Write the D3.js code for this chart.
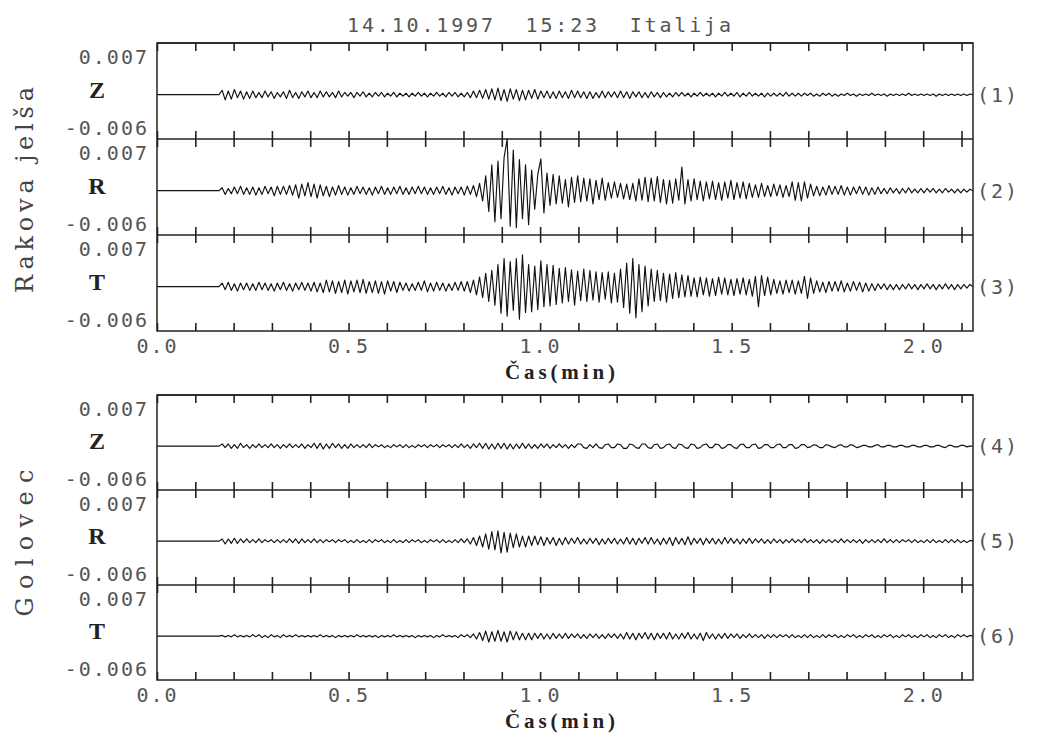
<!DOCTYPE html>
<html lang="sl">
<head>
<meta charset="UTF-8">
<title>14.10.1997 15:23 Italija</title>
<script src="https://d3js.org/d3.v7.min.js"></script>
<style>
    body { margin: 0; background: #fff; }
    .mono { font-family: "DejaVu Sans Mono", monospace; font-size: 20px; fill: #555; letter-spacing: 2px; }
    .serif { font-family: "DejaVu Serif", serif; fill: #444; }
    .bold { font-family: "Liberation Serif", serif; font-weight: bold; fill: #222; }
    .frame { fill: none; stroke: #222; stroke-width: 1.5; }
    .tick line { stroke: #222; stroke-width: 1.6; }
    .trace { fill: none; stroke: #111; stroke-width: 1.15; stroke-linejoin: round; }
</style>
</head>
<body>
<svg id="chart"></svg>
<script>
    // samples start at 0.17 min, one every 0.008 min; amplitudes in units of 0.0001
    var startTime = 0.17;
    var sampleStep = 0.008;

    var rakZ = [
        6,-7,5,-6,7,-4,5,-6,4,-5,
        5,-4,3,-4,5,-3,4,-5,3,-3,
        4,-5,6,-4,3,-5,4,-3,5,-4,
        3,-4,5,-3,4,-3,3,-4,5,-3,
        3,-2,3,-4,3,-2,4,-3,2,-3,
        3,-2,3,-3,2,-2,3,-3,2,-2,
        2,-3,2,-2,3,-2,2,-3,2,-2,
        3,-2,2,-3,3,-2,3,-3,2,-3,
        3,-4,5,-4,6,-5,7,-6,8,-7,
        9,-8,7,-9,8,-6,7,-8,6,-7,
        6,-5,7,-6,5,-4,5,-5,4,-5,
        5,-4,4,-5,6,-4,5,-4,4,-5,
        4,-5,3,-4,5,-4,4,-3,4,-4,
        5,-4,4,-5,4,-3,4,-4,3,-4,
        4,-3,3,-4,3,-3,2,-3,3,-2,
        3,-2,2,-3,2,-2,3,-2,2,-2,
        2,-3,2,-2,3,-2,2,-2,3,-3,
        2,-2,3,-2,2,-2,2,-3,2,-2,
        2,-2,2,-2,3,-2,2,-2,2,-2,
        2,-1,2,-2,1,-2,2,-1,2,-2,
        1,-2,1,-1,2,-1,1,-2,1,-1,
        1,-1,2,-1,1,-1,1,-2,1,-1,
        1,-1,1,-1,2,-1,1,-1,1,-1,
        1,-1,1,-2,1,-1,1,-1,1,-1,
        1,-1,1,-1,1,0
    ];
    var rakR = [
        4,-5,3,-4,5,-4,6,-5,4,-5,
        5,-6,4,-5,6,-4,5,-7,6,-5,
        6,-5,7,-6,8,-10,9,-7,11,-8,
        9,-10,8,-7,6,-8,5,-6,7,-5,
        5,-6,4,-5,6,-4,5,-5,4,-6,
        5,-4,6,-5,4,-5,5,-4,6,-5,
        4,-5,5,-4,6,-4,5,-5,4,-5,
        5,-4,6,-5,4,-6,5,-4,5,-6,
        6,-5,7,-8,10,-14,20,-28,35,-42,
        40,-38,45,70,-48,55,-50,42,-38,35,
        -46,28,-25,22,43,-30,24,-20,22,-18,
        20,-17,15,-22,18,-16,20,-15,17,-14,
        16,-18,14,-12,17,-13,11,-10,12,-9,
        10,-11,9,-12,10,-14,16,-13,18,-15,
        17,-14,19,-16,15,-18,14,-17,16,-13,
        32,-18,15,-14,16,-12,13,-14,12,-11,
        13,-12,11,-13,12,-10,14,-12,11,-10,
        12,-11,10,-9,8,-9,10,-8,7,-8,
        9,-7,8,-9,7,-8,12,-13,11,-14,
        12,-10,9,-7,6,-7,5,-6,7,-5,
        6,-5,7,-6,5,-6,5,-4,6,-5,
        5,-6,4,-5,5,-4,3,-4,4,-3,
        3,-4,3,-3,4,-3,2,-3,3,-3,
        3,-2,3,-3,2,-3,3,-2,2,-3,
        2,-3,2,-2,2,0
    ];
    var rakT = [
        5,-4,6,-5,4,-6,5,-4,5,-5,
        4,-5,6,-4,5,-5,4,-6,5,-4,
        6,-5,4,-6,5,-4,6,-5,5,-6,
        6,-7,5,-8,9,-7,8,-9,7,-8,
        9,-10,8,-7,9,-8,10,-9,7,-8,
        8,-9,7,-10,8,-6,7,-8,6,-5,
        5,-6,4,-5,6,-5,8,-7,5,-6,
        6,-5,5,-6,4,-5,6,-5,7,-6,
        7,-8,9,-11,13,-15,18,-20,22,-25,
        30,-36,38,-40,34,-32,38,-44,43,-35,
        30,-34,28,-31,35,-27,30,-26,29,-24,
        25,-22,26,-20,23,-25,21,-19,24,-20,
        22,-18,20,-21,19,-17,20,-22,18,-21,
        24,-28,32,-36,38,-42,30,-34,28,-26,
        24,-20,22,-19,18,-21,17,-16,19,-15,
        16,-14,15,-13,12,-14,13,-11,12,-13,
        11,-12,13,-10,12,-11,10,-12,11,-10,
        12,-11,10,-13,14,-27,15,-12,13,-11,
        10,-9,8,-10,9,-8,9,-10,8,-9,
        14,-16,12,-9,8,-7,6,-8,7,-6,
        7,-6,8,-7,5,-6,7,-5,6,-7,
        5,-6,4,-5,4,-3,4,-4,3,-4,
        3,-4,3,-3,4,-3,3,-4,3,-3,
        4,-3,3,-4,3,-3,4,-3,3,-4,
        3,-3,3,-2,3,0
    ];
    var golZ = [
        3,-2,3,-3,2,-3,4,-2,2,-3,
        2,-2,3,-2,2,-2,3,-2,2,-3,
        2,-2,3,-2,2,-2,3,-3,2,-2,
        4,-3,4,-4,3,-3,4,-2,3,-3,
        2,-3,3,-2,2,-2,2,-2,3,-2,
        2,-1,2,-2,1,-2,2,-1,2,-2,
        2,-2,1,-2,2,-1,2,-2,2,-1,
        2,-2,2,-1,2,-2,2,-2,3,-2,
        2,-3,3,-2,4,-3,4,-4,3,-4,
        4,-3,4,-4,3,-4,3,-3,4,-3,
        3,-3,2,-3,3,-2,3,-3,2,-2,
        3,-2,2,-3,2,-2,3,3,-2,-3,
        2,-2,3,-2,-3,2,3,-2,-2,3,
        2,-3,-3,3,2,-2,-3,3,3,-2,
        -3,2,3,-3,-2,2,3,-2,-3,3,
        2,-2,-3,3,2,-3,-2,2,3,-2,
        -2,3,2,-3,-2,2,2,-2,-3,2,
        3,-2,-2,2,3,-3,-2,2,2,-2,
        -2,2,3,-2,-2,2,2,-3,-2,2,
        2,-2,-1,2,1,-2,-2,2,1,-1,
        -2,1,2,-1,-1,2,1,-2,-1,1,
        1,-1,-1,1,2,-1,-1,1,1,-1,
        -1,1,1,-1,-1,1,1,-1,-1,1,
        1,-1,-1,1,1,-1,-2,1,1,-1,
        -1,1,1,-1,0,0
    ];
    var golR = [
        3,-4,3,-3,4,-3,3,-2,3,-2,
        2,-2,3,-2,2,-1,2,-2,2,-2,
        2,-2,3,-2,3,-3,3,-2,2,-2,
        3,-2,2,-2,2,-1,2,-2,2,-1,
        2,-2,1,-2,2,-2,1,-2,2,-2,
        2,-1,2,-2,1,-2,2,-2,1,-2,
        2,-2,2,-1,2,-2,1,-2,2,-1,
        2,-2,2,-2,1,-2,2,-2,3,-2,
        3,-4,5,-6,7,-8,10,-11,13,-12,
        14,-16,12,-15,11,-9,10,-8,7,-8,
        7,-6,7,-5,6,-6,5,-4,5,-6,
        4,-5,5,-4,4,-3,5,-4,3,-4,
        4,-3,4,-5,3,-4,4,-3,4,-4,
        3,-4,5,-4,4,-5,4,-3,5,-4,
        5,-4,3,-5,4,-4,5,-6,5,-4,
        4,-5,6,-5,4,-3,4,-5,4,-3,
        4,-4,3,-4,5,-3,4,-3,3,-4,
        3,-3,4,-3,3,-2,3,-3,2,-3,
        3,-2,2,-3,2,-2,3,-2,2,-2,
        3,-2,2,-2,2,-3,2,-2,2,-2,
        2,-2,3,-2,2,-2,2,-2,2,-3,
        2,-2,2,-2,2,-2,3,-2,2,-2,
        2,-2,2,-1,2,-2,2,-2,1,-2,
        2,-2,2,-2,1,-2,2,-2,2,-2,
        2,-2,1,-2,1,0
    ];
    var golT = [
        1,-1,1,-1,2,-1,1,-1,1,-1,
        2,-1,2,-2,1,-2,2,-1,1,-2,
        2,-1,1,-1,2,-1,1,-1,1,-1,
        1,-1,2,-1,1,-1,1,-2,1,-1,
        1,-1,1,-1,2,-1,1,-1,1,-1,
        1,-2,1,-1,1,-1,2,-1,1,-1,
        1,-1,1,-2,1,-1,1,-1,1,-2,
        1,-1,2,-1,1,-1,1,-2,2,-1,
        2,-2,3,-4,5,-6,7,-8,6,-7,
        8,-7,6,-8,7,-5,6,-5,4,-5,
        4,-5,4,-3,4,-4,3,-4,4,-3,
        3,-3,4,-3,3,-2,3,-3,2,-3,
        3,-2,3,-3,2,-3,3,-2,3,-3,
        3,-4,5,-4,4,-5,4,-3,5,-4,
        4,-5,4,-3,4,-4,5,-4,3,-4,
        4,-3,5,-4,3,-4,4,-6,5,-3,
        3,-4,3,-3,4,-3,3,-2,3,-3,
        2,-2,3,-2,2,-2,2,-3,2,-2,
        2,-2,2,-1,2,-2,2,-2,1,-2,
        2,-2,2,-2,1,-2,2,-2,2,-1,
        2,-2,1,-2,2,-1,2,-2,1,-2,
        2,-1,2,-2,1,-2,2,-1,2,-2,
        1,-2,2,-1,2,-2,1,-2,2,-1,
        2,-2,1,-2,2,-1,2,-2,1,-2,
        2,-1,2,-1,1,0
    ];

    var title = "14.10.1997  15:23  Italija";
    var stations = ["Rakova jelša", "Golovec"];
    var components = ["Z", "R", "T"];
    var traceNames = [["(1)", "(2)", "(3)"], ["(4)", "(5)", "(6)"]];
    var xTickValues = [0.0, 0.5, 1.0, 1.5, 2.0];
    var yTickValues = [-0.006, 0.007];
    var yTickLabels = ["-0.006", "0.007"];
    var xLabel = "Čas(min)";

    var width = 1044, height = 737;
    var svg = d3.select("#chart").attr("width", width).attr("height", height);

    var x = d3.scaleLinear().domain([0, 2.13]).range([157, 973]);

    // layout for the two station blocks
    var blocks = [
        {top: 43, ph: 96, traces: [rakZ, rakR, rakT], labelY: 190, labelLen: 206},
        {top: 395, ph: 95, traces: [golZ, golR, golT], labelY: 543, labelLen: 147}
    ];

    svg.append("text")
        .attr("class", "mono")
        .attr("x", 540).attr("y", 32)
        .attr("text-anchor", "middle")
        .attr("textLength", 386).attr("lengthAdjust", "spacing")
        .style("white-space", "pre")
        .text(title);

    var line = d3.line()
        .x(function (d) { return x(d.t); })
        .y(function (d) { return d.y; });

    blocks.forEach(function (b, bi) {
        var bottom = b.top + 3 * b.ph;

        b.traces.forEach(function (values, j) {
            var y0 = b.top + j * b.ph;
            var y = d3.scaleLinear().domain([-0.006, 0.007]).range([y0 + b.ph, y0]);

            // inward ticks on top and bottom of every strip
            var top = svg.append("g")
                .attr("transform", "translate(0," + y0 + ")")
                .call(d3.axisTop(x).ticks(20).tickSizeInner(-8).tickSizeOuter(0).tickFormat(""));
            top.select(".domain").remove();
            var bot = svg.append("g")
                .attr("transform", "translate(0," + (y0 + b.ph) + ")")
                .call(d3.axisBottom(x).ticks(20).tickSizeInner(-8).tickSizeOuter(0).tickFormat(""));
            bot.select(".domain").remove();

            svg.append("line").attr("class", "frame")
                .attr("x1", x.range()[0]).attr("x2", x.range()[1])
                .attr("y1", y0).attr("y2", y0);

            // the two limit labels sit just inside the strip
            var ya = svg.append("g")
                .attr("transform", "translate(" + x.range()[0] + ",0)")
                .call(d3.axisLeft(y).tickValues(yTickValues).tickSize(0).tickPadding(8)
                    .tickFormat(function (d, i) { return yTickLabels[i]; }));
            ya.select(".domain").remove();
            ya.selectAll("text")
                .attr("class", "mono")
                .attr("font-family", null).attr("font-size", null)
                .attr("dy", function (d) { return d > 0 ? 20 : -5; });

            var pts = [{t: 0, y: y(0)}, {t: startTime - sampleStep, y: y(0)}].concat(values.map(function (v, i) {
                return {t: startTime + i * sampleStep, y: y(v * 1e-4)};
            }));
            svg.append("path").attr("class", "trace").attr("d", line(pts));

            svg.append("text").attr("class", "bold")
                .attr("x", 97).attr("y", y(0) + 3)
                .attr("text-anchor", "middle")
                .attr("font-size", 24)
                .text(components[j]);

            svg.append("text").attr("class", "mono")
                .attr("x", 977).attr("y", y(0) + 7)
                .text(traceNames[bi][j]);
        });

        svg.append("rect").attr("class", "frame")
            .attr("x", x.range()[0]).attr("y", b.top)
            .attr("width", x.range()[1] - x.range()[0]).attr("height", bottom - b.top);

        var xa = svg.append("g")
            .attr("transform", "translate(0," + bottom + ")")
            .call(d3.axisBottom(x).tickValues(xTickValues).tickSize(0).tickPadding(8).tickFormat(d3.format(".1f")));
        xa.select(".domain").remove();
        xa.selectAll("text").attr("class", "mono").attr("font-family", null).attr("font-size", null);

        svg.append("text").attr("class", "bold")
            .attr("x", 505).attr("y", bottom + 48)
            .attr("font-size", 21)
            .attr("textLength", 110).attr("lengthAdjust", "spacing")
            .text(xLabel);

        svg.append("text").attr("class", "serif")
            .attr("transform", "translate(33," + b.labelY + ") rotate(-90)")
            .attr("text-anchor", "middle")
            .attr("font-size", 24)
            .attr("textLength", b.labelLen).attr("lengthAdjust", "spacing")
            .text(stations[bi]);
    });
</script>
</body>
</html>
